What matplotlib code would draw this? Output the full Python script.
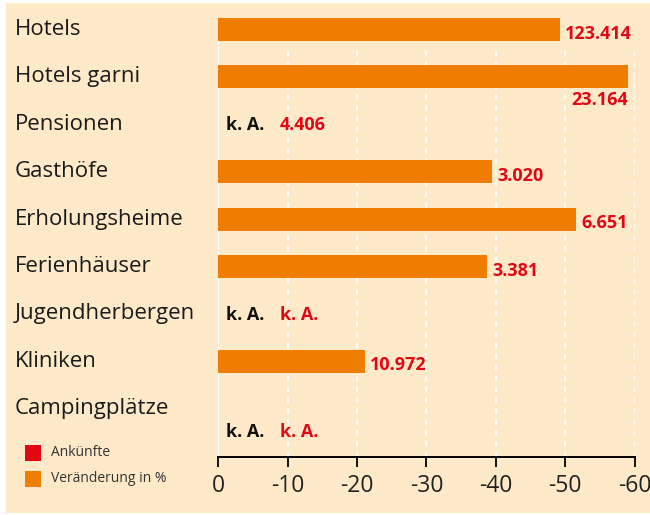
import numpy as np
import matplotlib
matplotlib.use("Agg")
import matplotlib.pyplot as plt
import matplotlib.transforms as mtransforms
from matplotlib.patches import Rectangle

plt.rcParams['font.family'] = ['Open Sans', 'DejaVu Sans']

# Data
kategorien = ["Hotels", "Hotels garni", "Pensionen", "Gasthöfe", "Erholungsheime",
              "Ferienhäuser", "Jugendherbergen", "Kliniken", "Campingplätze"]
veraenderung = [-49.2, -59.0, np.nan, -39.5, -51.6, -38.8, np.nan, -21.2, np.nan]
ankuenfte = ["123.414", "23.164", "4.406", "3.020", "6.651", "3.381", "k. A.", "10.972", "k. A."]
x_ticks = [0, -10, -20, -30, -40, -50, -60]
x_ticklabels = ["0", "-10", "-20", "-30", "-40", "-50", "-60"]

beige = "#FEEAC9"
orange = "#EF7D00"
red = "#E30613"

fig = plt.figure(figsize=(6.5, 5.15), dpi=100)
fig.patch.set_facecolor("white")
# beige panel with small white margin on left/top/bottom
fig.patches.append(Rectangle((6 / 650, 2 / 515), 1 - 6 / 650, 1 - 5 / 515,
                             transform=fig.transFigure, facecolor=beige,
                             edgecolor="none", zorder=-10))

ax = fig.add_axes([218.3 / 650, 58 / 515, 416.2 / 650, 439 / 515])
ax.set_facecolor("none")

rows = np.arange(len(kategorien))
bar_h = 0.485
vals = np.array(veraenderung)
ax.barh(rows, np.nan_to_num(vals), height=bar_h, color=orange, zorder=3)

ax.set_xlim(0, -60)
ax.set_ylim(9.02, -bar_h / 2)

# white dashed gridlines and solid zero line
ax.vlines(x_ticks[1:], 9.02, 0.33, colors="white", linestyles=(0, (3, 3)),
          linewidth=1.3, zorder=1)
ax.axvline(0, color="white", linewidth=1.5, zorder=2)

for s in ["top", "right", "left"]:
    ax.spines[s].set_visible(False)
ax.spines["bottom"].set_linewidth(1.4)
ax.set_yticks([])
ax.set_xticks(x_ticks)
ax.set_xticklabels(x_ticklabels, fontsize=16.5, color="#222222")
ax.tick_params(axis="x", direction="out", length=7.5, width=1.3, pad=5)

# category labels at the left edge
trans = mtransforms.blended_transform_factory(fig.transFigure, ax.transData)
for r, name in zip(rows, kategorien):
    ax.text(15 / 650, r, name, transform=trans, ha="left", va="center",
            fontsize=16, color="#1a1a1a")

# value labels
for r, v, lab in zip(rows, vals, ankuenfte):
    if np.isnan(v):
        dy = 0.5 if r == len(rows) - 1 else 0.02
        ax.text(-1.1, r + dy, "k. A.", ha="left", va="center", fontsize=13,
                fontweight="bold", color="#111111")
        ax.text(-8.9, r + dy, lab, ha="left", va="center", fontsize=13,
                fontweight="bold", color=red)
    elif r == 1:
        ax.annotate(lab, (v, r), xytext=(0, -16.5), textcoords="offset points",
                    ha="right", va="center", fontsize=13, fontweight="bold",
                    color=red, annotation_clip=False)
    else:
        ax.annotate(lab, (v, r), xytext=(3.6, -3), textcoords="offset points",
                    ha="left", va="center", fontsize=13, fontweight="bold",
                    color=red, annotation_clip=False)

# legend
for y, col, txt in [(453, red, "Ankünfte"), (479, orange, "Veränderung in %")]:
    fig.patches.append(Rectangle((25 / 650, 1 - (y + 8) / 515), 16 / 650, 16 / 515,
                                 transform=fig.transFigure, facecolor=col,
                                 edgecolor="none"))
    fig.text(51 / 650, 1 - y / 515, txt, ha="left", va="center",
             fontsize=10, color="#333333")

fig.savefig("out.png", dpi=100, facecolor=fig.get_facecolor())
